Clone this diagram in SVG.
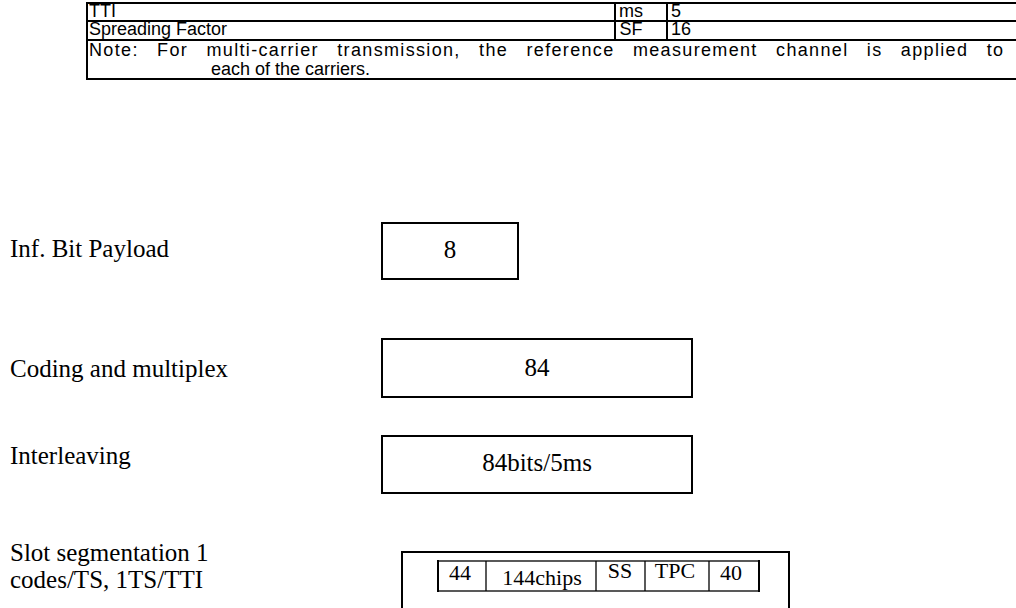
<svg xmlns="http://www.w3.org/2000/svg" width="1016" height="608" viewBox="0 0 1016 608">
<style>
.t{font-family:"Liberation Sans",Arial,sans-serif;font-size:18px;fill:#000}
.s{font-family:"Liberation Serif","Times New Roman",serif;font-size:25px;fill:#000}
.c{font-family:"Liberation Serif","Times New Roman",serif;font-size:22px;fill:#000}
.ln{stroke:#000;stroke-width:2;fill:none}
.dv{stroke:#000;stroke-width:1.3;fill:none}
.bx{stroke:#000;stroke-width:2;fill:#fff}
</style>
<rect width="1016" height="608" fill="#fff"/>
<g id="table">
<line class="ln" x1="86" y1="3" x2="1016" y2="3"/>
<line class="ln" x1="86" y1="21" x2="1016" y2="21"/>
<line class="ln" x1="86" y1="40" x2="1016" y2="40"/>
<line class="ln" x1="86" y1="79" x2="1016" y2="79"/>
<line class="ln" x1="87" y1="2" x2="87" y2="80"/>
<line class="ln" x1="615" y1="3" x2="615" y2="40"/>
<line class="ln" x1="667" y1="3" x2="667" y2="40"/>
<text class="t" x="89" y="17">TTI</text>
<text class="t" x="631" y="17" text-anchor="middle">ms</text>
<text class="t" x="671" y="17">5</text>
<text class="t" x="89" y="35">Spreading Factor</text>
<text class="t" x="631" y="35" text-anchor="middle">SF</text>
<text class="t" x="671" y="35">16</text>
<text class="t" x="89" y="56" word-spacing="12" textLength="914" lengthAdjust="spacing">Note: For multi-carrier transmission, the reference measurement channel is applied to</text>
<text class="t" x="211" y="75">each of the carriers.</text>
</g>
<g id="labels">
<text class="s" x="10" y="257">Inf. Bit Payload</text>
<text class="s" x="10" y="377">Coding and multiplex</text>
<text class="s" x="10" y="464">Interleaving</text>
<text class="s" x="10" y="561">Slot segmentation 1</text>
<text class="s" x="10" y="588">codes/TS, 1TS/TTI</text>
</g>
<g id="payload">
<rect class="bx" x="382" y="223" width="136" height="56"/>
<text class="s" x="450" y="258" text-anchor="middle">8</text>
</g>
<g id="coding">
<rect class="bx" x="382" y="339" width="310" height="58"/>
<text class="s" x="537" y="376" text-anchor="middle">84</text>
</g>
<g id="interleaving">
<rect class="bx" x="382" y="436" width="310" height="57"/>
<text class="s" x="537" y="471" text-anchor="middle">84bits/5ms</text>
</g>
<g id="slot">
<rect class="bx" x="402" y="552" width="387" height="70"/>
<rect class="dv" x="438" y="561" width="321" height="30"/>
<line class="ln" x1="438" y1="560" x2="438" y2="592" stroke-width="3"/>
<line class="ln" x1="759" y1="560" x2="759" y2="592" stroke-width="3"/>
<line class="dv" x1="486" y1="561" x2="486" y2="591"/>
<line class="dv" x1="596" y1="561" x2="596" y2="591"/>
<line class="dv" x1="645" y1="561" x2="645" y2="591"/>
<line class="dv" x1="709" y1="561" x2="709" y2="591"/>
<text class="c" x="460" y="580" text-anchor="middle">44</text>
<text class="c" x="542" y="585" text-anchor="middle" font-size="24">144chips</text>
<text class="c" x="620" y="578" text-anchor="middle" font-size="21">SS</text>
<text class="c" x="675" y="578" text-anchor="middle" font-size="21">TPC</text>
<text class="c" x="731" y="580" text-anchor="middle">40</text>
</g>
</svg>
